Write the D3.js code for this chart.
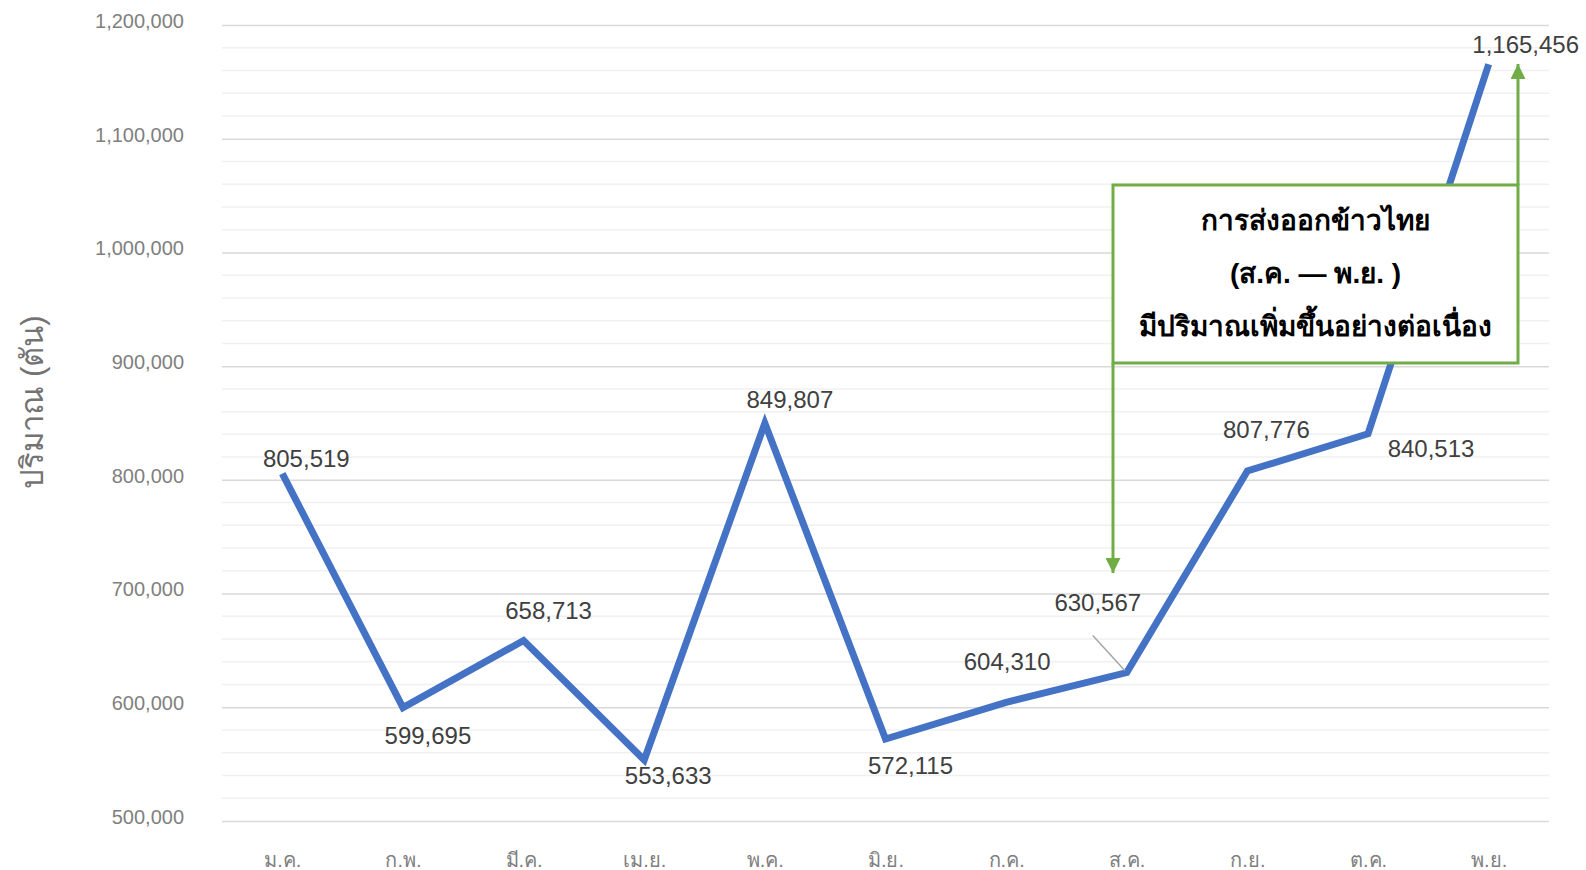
<!DOCTYPE html>
<html>
<head>
<meta charset="utf-8">
<script src="https://cdn.jsdelivr.net/npm/d3@7"></script>
<style>
  body { margin: 0; background: #fff; }
  svg { display: block; font-family: "Liberation Sans", "Noto Sans", sans-serif; }
</style>
</head>
<body>
<svg id="chart" width="1586" height="870"></svg>
<script>
// data
var months = ["ม.ค.", "ก.พ.", "มี.ค.", "เม.ย.", "พ.ค.", "มิ.ย.", "ก.ค.", "ส.ค.", "ก.ย.", "ต.ค.", "พ.ย."];
var volumes = [805519, 599695, 658713, 553633, 849807, 572115, 604310, 630567, 807776, 840513, 1165456];
var yTicks = [500000, 600000, 700000, 800000, 900000, 1000000, 1100000, 1200000];
var yTitle = "ปริมาณ (ตัน)";
var noteLines = ["การส่งออกข้าวไทย", "(ส.ค. — พ.ย. )", "มีปริมาณเพิ่มขึ้นอย่างต่อเนื่อง"];

function drawChart() {
    var svg = d3.select("#chart"),
        margin = {top: 25, right: 37, bottom: 49, left: 222},
        width = +svg.attr("width") - margin.left - margin.right,
        height = +svg.attr("height") - margin.top - margin.bottom;

    var x = d3.scalePoint().domain(months).range([0, width]).padding(0.5),
        y = d3.scaleLinear().domain([500000, 1200000]).range([height, 0]);

    var g = svg.append("g")
        .attr("transform", "translate(" + margin.left + "," + margin.top + ")");

    // minor grid
    g.append("g")
        .selectAll("line")
        .data(d3.range(500000, 1200001, 20000).filter(function(v) { return v % 100000 !== 0; }))
        .enter().append("line")
        .attr("x1", 0).attr("x2", width)
        .attr("y1", function(d) { return y(d); })
        .attr("y2", function(d) { return y(d); })
        .attr("stroke", "#f0f0f0")
        .attr("stroke-width", 1.5);

    // y axis with major grid
    var yAxis = g.append("g")
        .call(d3.axisLeft(y).tickValues(yTicks).tickSize(-width).tickPadding(38)
            .tickFormat(d3.format(",")));
    yAxis.select(".domain").remove();
    yAxis.selectAll(".tick line").attr("stroke", "#d9d9d9").attr("stroke-width", 1.5);
    yAxis.selectAll(".tick text")
        .attr("fill", "#7f7f7f")
        .attr("dy", "0.12em")
        .style("font-size", "20px");

    // x axis
    var xAxis = g.append("g")
        .attr("transform", "translate(0," + height + ")")
        .call(d3.axisBottom(x).tickSize(0).tickPadding(32));
    xAxis.select(".domain").remove();
    xAxis.selectAll(".tick text")
        .attr("fill", "#7f7f7f")
        .style("font-size", "20px");

    // y title
    svg.append("text")
        .attr("transform", "translate(43,402) rotate(-90)")
        .attr("text-anchor", "middle")
        .attr("fill", "#737373")
        .style("font-size", "31px")
        .text(yTitle);

    // line
    var line = d3.line()
        .x(function(d, i) { return x(months[i]); })
        .y(function(d) { return y(d); });

    g.append("path")
        .datum(volumes)
        .attr("fill", "none")
        .attr("stroke", "#4472c4")
        .attr("stroke-width", 7)
        .attr("stroke-linejoin", "miter")
        .attr("d", line);

    // label offsets from each point (dx, dy of label centre)
    var offs = [[24, -15], [25, 28], [25, -30], [24, 16], [25, -24], [25, 27],
                [1, -41], [-29, -70], [19, -41], [63, 15], [37, -20]];

    // leader line for ส.ค.
    g.append("line")
        .attr("x1", x(months[7]) - 34).attr("y1", y(volumes[7]) - 37)
        .attr("x2", x(months[7]) - 2).attr("y2", y(volumes[7]) - 2)
        .attr("stroke", "#a6a6a6")
        .attr("stroke-width", 1.5);

    g.selectAll(".lbl")
        .data(volumes)
        .enter().append("text")
        .attr("class", "lbl")
        .attr("x", function(d, i) { return x(months[i]) + offs[i][0]; })
        .attr("y", function(d, i) { return y(d) + offs[i][1]; })
        .attr("dy", "0.35em")
        .attr("text-anchor", "middle")
        .attr("fill", "#404040")
        .style("font-size", "24px")
        .text(d3.format(","));

    // annotation box
    var green = "#70ad47";
    var bx = 1113, by = 185, bw = 405, bh = 178;

    svg.append("defs").append("marker")
        .attr("id", "arr")
        .attr("viewBox", "0 0 10 10")
        .attr("refX", 10).attr("refY", 5)
        .attr("markerWidth", 5).attr("markerHeight", 5)
        .attr("markerUnits", "strokeWidth")
        .attr("orient", "auto")
        .append("path")
        .attr("d", "M0,0L10,5L0,10Z")
        .attr("fill", green);

    svg.append("line")
        .attr("x1", bx + bw).attr("y1", by)
        .attr("x2", bx + bw).attr("y2", 64)
        .attr("stroke", green).attr("stroke-width", 3)
        .attr("marker-end", "url(#arr)");

    svg.append("line")
        .attr("x1", bx).attr("y1", by + bh)
        .attr("x2", bx).attr("y2", 573)
        .attr("stroke", green).attr("stroke-width", 3)
        .attr("marker-end", "url(#arr)");

    svg.append("rect")
        .attr("x", bx).attr("y", by)
        .attr("width", bw).attr("height", bh)
        .attr("fill", "#fff")
        .attr("stroke", green)
        .attr("stroke-width", 3);

    svg.append("g")
        .selectAll("text")
        .data(noteLines)
        .enter().append("text")
        .attr("x", bx + bw / 2)
        .attr("y", function(d, i) { return 220 + i * 53; })
        .attr("dy", "0.35em")
        .attr("text-anchor", "middle")
        .attr("fill", "#000")
        .style("font-size", "28px")
        .style("font-weight", "bold")
        .text(function(d) { return d; });
}

drawChart();
</script>
</body>
</html>
